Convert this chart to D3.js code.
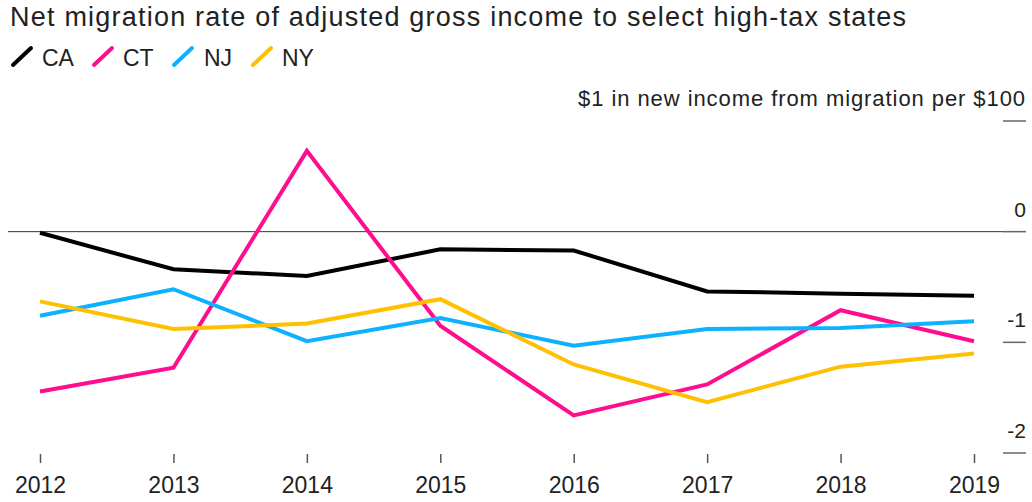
<!DOCTYPE html>
<html>
<head>
<meta charset="utf-8">
<script src="https://cdn.jsdelivr.net/npm/d3@7"></script>
<style>
  html, body { margin: 0; padding: 0; background: #fff; }
  svg { display: block; font-family: "Liberation Sans", Arial, sans-serif; }
</style>
</head>
<body>
<svg id="chart" width="1032" height="502"></svg>
<script>
const years = [2012, 2013, 2014, 2015, 2016, 2017, 2018, 2019];
const caValues = [-0.01, -0.34, -0.40, -0.16, -0.17, -0.54, -0.56, -0.58];
const ctValues = [-1.445, -1.23, 0.73, -0.85, -1.66, -1.38, -0.71, -0.99];
const njValues = [-0.76, -0.52, -0.99, -0.78, -1.03, -0.88, -0.87, -0.81];
const nyValues = [-0.63, -0.88, -0.83, -0.61, -1.20, -1.54, -1.22, -1.10];
const seriesNames = ["CA", "CT", "NJ", "NY"];
const yTicks = [1, 0, -1, -2];
const yTickLabels = ["$1 in new income from migration per $100", "0", "-1", "-2"];
const titleText = "Net migration rate of adjusted gross income to select high-tax states";

const colors = { CA: "#000000", CT: "#ff0d8e", NJ: "#0db2ff", NY: "#ffc000" };
const seriesData = { CA: caValues, CT: ctValues, NJ: njValues, NY: nyValues };

const svg = d3.select("#chart");
const x = d3.scaleLinear().domain([2012, 2019]).range([40, 974]);
const y = d3.scaleLinear().domain([-2, 1]).range([453, 121]);

function fit(sel, target) {
  const node = sel.node();
  const n = sel.text().length;
  const w = node.getComputedTextLength();
  if (n > 1) sel.attr("letter-spacing", ((target - w) / (n - 1)).toFixed(3));
}

// Title
const title = svg.append("text")
  .attr("x", 10).attr("y", 26)
  .attr("font-size", 27).attr("fill", "#222")
  .text(titleText);
fit(title, 896);

// Legend
const legendPos = { CA: [13, 42], CT: [94, 123], NJ: [174, 204], NY: [253, 282] };
seriesNames.forEach(name => {
  const [sx, tx] = legendPos[name];
  svg.append("line")
    .attr("x1", sx).attr("y1", 65).attr("x2", sx + 18).attr("y2", 48)
    .attr("stroke", colors[name]).attr("stroke-width", 4).attr("stroke-linecap", "round");
  svg.append("text")
    .attr("x", tx).attr("y", 66)
    .attr("font-size", 23).attr("fill", "#222")
    .text(name);
});

// Y axis (right) ticks and labels
const yAxis = d3.axisRight(y).tickValues(yTicks).tickSize(0).tickFormat("");
const yg = svg.append("g").attr("transform", "translate(1026,0)").call(yAxis);
yg.select(".domain").remove();
yTicks.forEach((t, i) => {
  svg.append("line")
    .attr("x1", 1003).attr("x2", 1026)
    .attr("y1", y(t)).attr("y2", y(t))
    .attr("stroke", "#666").attr("stroke-width", 1.5);
  const lbl = svg.append("text")
    .attr("x", 1026).attr("y", y(t) - 15)
    .attr("text-anchor", "end")
    .attr("font-size", i === 0 ? 22 : 21).attr("fill", "#222")
    .text(yTickLabels[i]);
  if (i === 0) fit(lbl, 447);
});

// Zero line
svg.append("line")
  .attr("x1", 8).attr("x2", 1003)
  .attr("y1", y(0)).attr("y2", y(0))
  .attr("stroke", "#333").attr("stroke-width", 1);

// X axis
const xAxis = d3.axisBottom(x).tickValues(years).tickFormat(d3.format("d")).tickSize(9).tickPadding(14);
const xg = svg.append("g").attr("transform", "translate(0,454)").call(xAxis);
xg.select(".domain").remove();
xg.selectAll(".tick line").attr("stroke", "#555").attr("stroke-width", 1.5);
xg.selectAll(".tick text")
  .attr("font-size", 23).attr("fill", "#222")
  .attr("font-family", "Liberation Sans, Arial, sans-serif");

// Lines
const line = d3.line().x((d, i) => x(years[i])).y(d => y(d));
seriesNames.forEach(name => {
  svg.append("path")
    .datum(seriesData[name])
    .attr("d", line)
    .attr("fill", "none")
    .attr("stroke", colors[name])
    .attr("stroke-width", 4)
    .attr("stroke-linejoin", "miter");
});
</script>
</body>
</html>
